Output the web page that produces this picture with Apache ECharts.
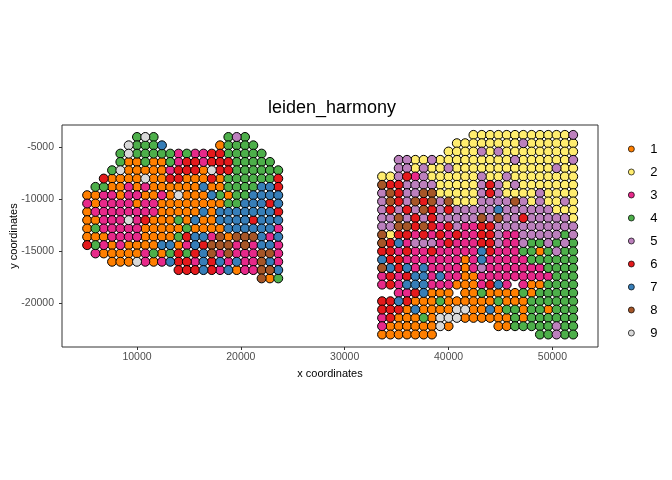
<!DOCTYPE html>
<html><head><meta charset="utf-8">
<script src="https://cdn.jsdelivr.net/npm/echarts@6/dist/echarts.min.js"></script>
<style>html,body{margin:0;padding:0;background:#fff}#c{width:672px;height:480px}</style>
</head><body><div id="c"></div>
<script>
// Cluster ids and colours
const clusters = ['1','2','3','4','5','6','7','8','9'];
const clusterColors = ['#FF7F00','#FFED6F','#E7298A','#4DAF4A','#BC80BD','#E41A1C','#377EB8','#A65628','#D9D9D9'];
const xTicks = [10000, 20000, 30000, 40000, 50000];
const yTicks = [-20000, -15000, -10000, -5000];

// Left tissue section: spot coordinates (columns / rows) and cluster label of each spot
const leftX = [5200,6000,6800,7600,8400,9200,10000,10800,11600,12400,13200,14000,14800,15600,16400,17200,18000,18800,19600,20400,21200,22000,22800,23600];
const leftY = [-4000,-4800,-5600,-6400,-7200,-8000,-8800,-9600,-10400,-11200,-12000,-12800,-13600,-14400,-15200,-16000,-16800,-17600];
const leftLabels = [
  "......494........454....",
  ".....94447......14444...",
  "....494444434336644444..",
  "....4114114366366644444.",
  "...491111136661966444444",
  "..6111191166111614444446",
  ".44113131111117114444776",
  "113313311319111741447777",
  "313333133111111114477767",
  "133333333111117177777776",
  "113339361114171177776777",
  "143333311111411117777773",
  "111333311114677381888737",
  "643131111771376888383773",
  ".31111134146467838333883",
  "...111931376637673733873",
  "...........6667637133887",
  ".....................814"
];

// Right tissue section
const rightX = [33600,34400,35200,36000,36800,37600,38400,39200,40000,40800,41600,42400,43200,44000,44800,45600,46400,47200,48000,48800,49600,50400,51200,52000];
const rightY = [-3800,-4600,-5400,-6200,-7000,-7800,-8600,-9400,-10200,-11000,-11800,-12600,-13400,-14200,-15000,-15800,-16600,-17400,-18200,-19000,-19800,-20600,-21400,-22200,-23000];
const rightLabels = [
  "...........2222222222225",
  ".........222222225222222",
  "........2222525222222222",
  "..5522522222222252222225",
  "..5525225222222222222522",
  "225635222222522522222222",
  "866555522222565252222222",
  "586558822222565222252222",
  "586586858222555585252252",
  "565658656555557555555222",
  "558565655555858556555552",
  "558868636533665555555555",
  "826636363633665335555545",
  "867355536333665335445454",
  "663633633333763334414544",
  "766333333313733333444444",
  "876737333313533333334444",
  "363677373311333333333444",
  "3637773331113673.3114444",
  "..3367111.11411114144444",
  "667611141111114111444444",
  "666171111991171441441444",
  "361114199911111141444444",
  "311111191.....1144444544",
  "1111111............44544"
];

const points = {};
clusters.forEach(k => points[k] = []);
function collect(xs, ys, labels) {
  labels.forEach((row, r) => {
    for (let c = 0; c < row.length; c++) {
      const k = row[c];
      if (k !== '.') points[k].push([xs[c], ys[r]]);
    }
  });
}
collect(leftX, leftY, leftLabels);
collect(rightX, rightY, rightLabels);

const FONT = "'Liberation Sans', Arial, sans-serif";
const plain = v => String(v);
const chart = echarts.init(document.getElementById('c'), null, {renderer: 'canvas'});
chart.setOption({
  animation: false,
  backgroundColor: '#fff',
  title: {
    text: 'leiden_harmony', left: 263, top: 94,
    textStyle: {fontFamily: FONT, fontSize: 18, fontWeight: 'normal', color: '#000'}
  },
  grid: {left: 62, right: 74, top: 125, bottom: 133, show: true, borderColor: '#333', borderWidth: 1,
         containLabel: false, outerBoundsMode: 'none'},
  xAxis: {
    type: 'value', min: 2778, max: 54391,
    name: 'x coordinates', nameLocation: 'middle', nameGap: 21, nameMoveOverlap: false,
    nameTextStyle: {fontFamily: FONT, fontSize: 11, color: '#000'},
    axisLine: {show: false}, splitLine: {show: false},
    axisTick: {show: true, length: 3, customValues: xTicks, lineStyle: {color: '#333'}},
    axisLabel: {customValues: xTicks, formatter: plain, margin: 5, fontFamily: FONT, fontSize: 10.5, color: '#4D4D4D'}
  },
  yAxis: {
    type: 'value', min: -24202, max: -2846,
    name: 'y coordinates', nameLocation: 'middle', nameGap: 43, nameRotate: 90, nameMoveOverlap: false,
    nameTextStyle: {fontFamily: FONT, fontSize: 11, color: '#000'},
    axisLine: {show: false}, splitLine: {show: false},
    axisTick: {show: true, length: 3, customValues: yTicks, lineStyle: {color: '#333'}},
    axisLabel: {customValues: yTicks, formatter: plain, margin: 8, fontFamily: FONT, fontSize: 10.5, color: '#4D4D4D'}
  },
  legend: {
    orient: 'vertical', left: 623, top: 137, itemWidth: 6, itemHeight: 6, itemGap: 9,
    icon: 'circle',
    itemStyle: {borderColor: '#000', borderWidth: 0.7},
    textStyle: {fontFamily: FONT, fontSize: 13, color: '#000', lineHeight: 14, padding: [0, 0, 0, 11]},
    data: clusters
  },
  series: clusters.map((k, i) => ({
    name: k, type: 'scatter', symbol: 'circle', symbolSize: 9,
    itemStyle: {color: clusterColors[i], borderColor: '#000', borderWidth: 1, opacity: 1},
    emphasis: {disabled: true},
    data: points[k]
  }))
});
</script></body></html>
